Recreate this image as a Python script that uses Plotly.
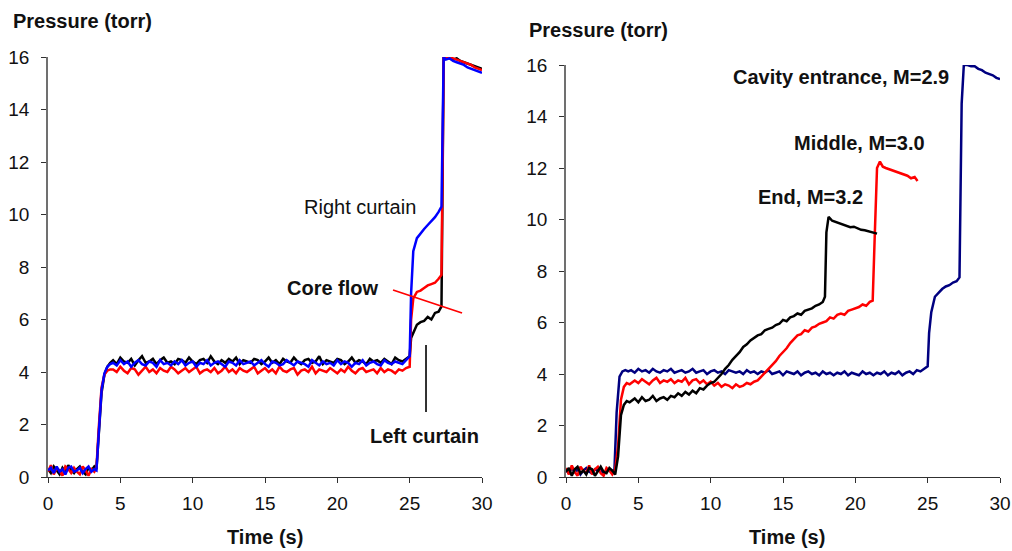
import plotly.graph_objects as go

# ---------------- Left panel data (shared time base) ----------------
t_left = [0, 0.2, 0.4, 0.6, 0.8, 1.0, 1.2, 1.4, 1.6, 1.8, 2.0, 2.2, 2.4, 2.6, 2.8, 3.0, 3.2, 3.35,
          3.5, 3.7, 3.9, 4.1, 4.3,
          4.5, 4.75, 5.0, 5.25, 5.5, 5.75, 6.0, 6.25, 6.5, 6.75,
          7.0, 7.25, 7.5, 7.75, 8.0, 8.25, 8.5, 8.75, 9.0, 9.25,
          9.5, 9.75, 10.0, 10.25, 10.5, 10.75, 11.0, 11.25, 11.5, 11.75,
          12.0, 12.25, 12.5, 12.75, 13.0, 13.25, 13.5, 13.75, 14.0, 14.25,
          14.5, 14.75, 15.0, 15.25, 15.5, 15.75, 16.0, 16.25, 16.5, 16.75,
          17.0, 17.25, 17.5, 17.75, 18.0, 18.25, 18.5, 18.75, 19.0, 19.25,
          19.5, 19.75, 20.0, 20.25, 20.5, 20.75, 21.0, 21.25, 21.5, 21.75,
          22.0, 22.25, 22.5, 22.75, 23.0, 23.25, 23.5, 23.75, 24.0, 24.25,
          24.5, 24.75,
          25.0, 25.1, 25.25, 25.5, 25.75, 26.0, 26.25, 26.5, 26.75, 27.0, 27.2,
          27.35, 27.5, 27.75, 28.0, 28.25, 28.5, 28.75, 29.0, 29.25, 29.5, 29.75, 30.0]

left_curtain = [0.30, 0.15, 0.40, 0.25, 0.10, 0.35, 0.20, 0.45, 0.25, 0.15, 0.30, 0.40, 0.20, 0.10, 0.35, 0.25, 0.40, 0.30,
                1.5, 3.2, 3.9, 4.2, 4.35,
                4.45, 4.30, 4.55, 4.40, 4.35, 4.50, 4.25, 4.45, 4.60, 4.35,
                4.40, 4.50, 4.30, 4.45, 4.55, 4.35, 4.40, 4.30, 4.50, 4.45,
                4.35, 4.55, 4.40, 4.30, 4.45, 4.50, 4.35, 4.60, 4.40, 4.30,
                4.45, 4.35, 4.50, 4.40, 4.55, 4.30, 4.45, 4.40, 4.35, 4.50,
                4.45, 4.30, 4.40, 4.55, 4.35, 4.45, 4.30, 4.50, 4.40, 4.35,
                4.55, 4.40, 4.30, 4.45, 4.50, 4.35, 4.40, 4.60, 4.30, 4.45,
                4.40, 4.35, 4.50, 4.45, 4.30, 4.40, 4.55, 4.35, 4.45, 4.40,
                4.30, 4.50, 4.40, 4.45, 4.35, 4.50, 4.40, 4.30, 4.55, 4.45,
                4.40, 4.50,
                4.6, 5.3, 5.5, 5.8, 5.9, 5.95, 6.1, 6.0, 6.25, 6.3, 6.5,
                16.0, 16.0, 15.95, 15.9, 15.95, 15.85, 15.8, 15.75, 15.7, 15.65, 15.6, 15.55]

core_flow = [0.20, 0.45, 0.10, 0.35, 0.25, 0.05, 0.40, 0.30, 0.15, 0.35, 0.20, 0.10, 0.40, 0.25, 0.05, 0.30, 0.20, 0.35,
             1.8, 3.4, 3.9, 4.05, 4.1,
             4.10, 4.00, 4.20, 4.05, 3.95, 4.15, 4.10, 3.90, 4.05, 4.20,
             4.00, 4.10, 3.95, 4.15, 4.05, 4.00, 4.20, 4.10, 3.95, 4.05,
             4.15, 4.00, 4.10, 4.20, 3.95, 4.05, 4.10, 4.00, 4.15, 3.95,
             4.05, 4.20, 4.00, 4.10, 3.95, 4.15, 4.05, 4.00, 4.10, 4.20,
             3.95, 4.05, 4.15, 4.00, 4.10, 3.95, 4.20, 4.05, 4.00, 4.10,
             4.15, 3.90, 4.05, 4.10, 4.00, 4.20, 3.95, 4.10, 4.05, 4.00,
             4.15, 4.05, 3.95, 4.10, 4.00, 4.20, 4.05, 3.95, 4.10, 4.15,
             4.00, 4.05, 4.10, 3.95, 4.15, 4.00, 4.10, 4.05, 3.95, 4.10,
             4.05, 4.15,
             4.2, 6.0, 6.8, 7.05, 7.1, 7.2, 7.3, 7.35, 7.4, 7.55, 7.7,
             16.0, 16.0, 16.0, 15.95, 15.9, 15.85, 15.8, 15.75, 15.7, 15.6, 15.55, 15.5]

right_curtain = [0.25, 0.35, 0.15, 0.40, 0.20, 0.30, 0.10, 0.35, 0.40, 0.20, 0.25, 0.35, 0.15, 0.30, 0.40, 0.20, 0.30, 0.25,
                 1.6, 3.3, 3.95, 4.2, 4.3,
                 4.35, 4.25, 4.45, 4.30, 4.40, 4.20, 4.35, 4.45, 4.30, 4.25,
                 4.40, 4.35, 4.20, 4.45, 4.30, 4.35, 4.25, 4.40, 4.30, 4.45,
                 4.25, 4.35, 4.40, 4.20, 4.35, 4.30, 4.45, 4.25, 4.35, 4.40,
                 4.30, 4.20, 4.40, 4.35, 4.25, 4.45, 4.30, 4.35, 4.40, 4.25,
                 4.35, 4.45, 4.30, 4.20, 4.40, 4.35, 4.25, 4.30, 4.45, 4.35,
                 4.25, 4.40, 4.35, 4.30, 4.20, 4.45, 4.35, 4.25, 4.40, 4.30,
                 4.35, 4.25, 4.45, 4.30, 4.40, 4.35, 4.20, 4.35, 4.30, 4.45,
                 4.25, 4.35, 4.40, 4.30, 4.25, 4.45, 4.35, 4.30, 4.40, 4.35,
                 4.30, 4.45,
                 4.6, 7.0, 8.6, 9.1, 9.3, 9.45, 9.6, 9.75, 9.9, 10.1, 10.3,
                 16.0, 15.9, 15.95, 15.85, 15.8, 15.75, 15.7, 15.6, 15.55, 15.5, 15.45, 15.4]

# guide lines drawn on the left panel
core_marker_x = [23.85, 28.62]
core_marker_y = [7.12, 6.25]
left_marker_x = [26.13, 26.13]
left_marker_y = [5.03, 2.48]

# ---------------- Right panel data ----------------
t_entrance = t_left
entrance = [0.25, 0.15, 0.35, 0.20, 0.30, 0.10, 0.25, 0.35, 0.20, 0.15, 0.30, 0.25, 0.35, 0.10, 0.25, 0.30, 0.20, 0.30,
            2.5, 3.9, 4.1, 4.15, 4.1,
            4.15, 4.05, 4.20, 4.10, 4.15, 4.05, 4.20, 4.10, 4.05, 4.15,
            4.10, 4.20, 4.05, 4.10, 4.15, 4.05, 4.10, 4.20, 4.05, 4.10,
            4.15, 4.00, 4.10, 4.15, 4.05, 4.10, 4.00, 4.15, 4.10, 4.05,
            4.10, 4.00, 4.15, 4.05, 4.10, 4.00, 4.10, 4.05, 4.15, 4.00,
            4.05, 4.10, 3.95, 4.10, 4.05, 4.00, 4.10, 3.95, 4.05, 4.10,
            4.00, 4.05, 3.95, 4.10, 4.00, 4.05, 3.95, 4.05, 4.00, 4.10,
            3.95, 4.05, 4.00, 3.95, 4.10, 4.00, 4.05, 3.95, 4.05, 4.00,
            4.10, 3.95, 4.05, 4.00, 4.10, 3.95, 4.05, 4.10, 4.00, 4.15,
            4.10, 4.20,
            4.3, 5.6, 6.4, 7.0, 7.15, 7.3, 7.4, 7.45, 7.55, 7.6, 7.75,
            14.5, 16.0, 16.0, 15.95, 15.95, 15.85, 15.8, 15.7, 15.65, 15.6, 15.5, 15.45]

t_middle = [0, 0.2, 0.4, 0.6, 0.8, 1.0, 1.2, 1.4, 1.6, 1.8, 2.0, 2.2, 2.4, 2.6, 2.8, 3.0, 3.2, 3.4,
            3.6, 3.8, 4.0, 4.2, 4.4,
            4.75, 5.0, 5.25, 5.5, 5.75, 6.0, 6.25, 6.5, 6.75, 7.0,
            7.25, 7.5, 7.75, 8.0, 8.25, 8.5, 8.75, 9.0, 9.25, 9.5,
            9.75, 10.0, 10.25, 10.5, 10.75, 11.0, 11.25, 11.5, 11.75, 12.0,
            12.25, 12.5, 12.75, 13.0, 13.25, 13.5, 13.75, 14.0, 14.25, 14.5,
            14.75, 15.0, 15.25, 15.5, 15.75, 16.0, 16.25, 16.5, 16.75, 17.0,
            17.25, 17.5, 17.75, 18.0, 18.25, 18.5, 18.75, 19.0, 19.25, 19.5,
            19.75, 20.0, 20.25, 20.5, 20.75, 21.0,
            21.2, 21.35, 21.5, 21.7,
            21.9, 22.1, 22.35, 22.6, 22.85, 23.1, 23.35, 23.6, 23.85, 24.1, 24.3]
middle = [0.35, 0.10, 0.45, 0.20, 0.05, 0.40, 0.25, 0.15, 0.45, 0.10, 0.30, 0.40, 0.15, 0.05, 0.35, 0.25, 0.10, 0.30,
          1.2, 3.0, 3.5, 3.65, 3.6,
          3.75, 3.65, 3.80, 3.70, 3.60, 3.75, 3.85, 3.65, 3.75, 3.70,
          3.80, 3.65, 3.75, 3.70, 3.85, 3.60, 3.75, 3.80, 3.65, 3.75,
          3.60, 3.70, 3.55, 3.65, 3.50, 3.60, 3.55, 3.45, 3.60, 3.50,
          3.55, 3.65, 3.60, 3.70, 3.75, 3.90, 4.05, 4.20, 4.35, 4.50,
          4.70, 4.85, 5.00, 5.20, 5.35, 5.50, 5.55, 5.70, 5.65, 5.80,
          5.85, 5.95, 6.00, 6.05, 6.20, 6.15, 6.30, 6.35, 6.30, 6.45,
          6.50, 6.55, 6.60, 6.70, 6.65, 6.80,
          6.85, 9.5, 12.0, 12.25,
          12.05, 12.0, 11.95, 11.9, 11.85, 11.8, 11.75, 11.7, 11.6, 11.65, 11.5]

t_end = [0, 0.2, 0.4, 0.6, 0.8, 1.0, 1.2, 1.4, 1.6, 1.8, 2.0, 2.2, 2.4, 2.6, 2.8, 3.0, 3.2, 3.4,
         3.6, 3.8, 4.0, 4.2, 4.4,
         4.75, 5.0, 5.25, 5.5, 5.75, 6.0, 6.25, 6.5, 6.75, 7.0,
         7.25, 7.5, 7.75, 8.0, 8.25, 8.5, 8.75, 9.0, 9.25, 9.5,
         9.75, 10.0, 10.25, 10.5, 10.75, 11.0, 11.25, 11.5, 11.75, 12.0,
         12.25, 12.5, 12.75, 13.0, 13.25, 13.5, 13.75, 14.0, 14.25, 14.5,
         14.75, 15.0, 15.25, 15.5, 15.75, 16.0, 16.25, 16.5, 16.75, 17.0,
         17.25, 17.5, 17.75,
         17.9, 18.0, 18.15,
         18.4, 18.65, 18.9, 19.15, 19.4, 19.65, 19.9, 20.15, 20.4, 20.65, 20.9, 21.15, 21.4, 21.5]
end = [0.20, 0.35, 0.05, 0.30, 0.40, 0.15, 0.25, 0.10, 0.35, 0.30, 0.05, 0.25, 0.40, 0.20, 0.15, 0.35, 0.25, 0.10,
       0.8, 2.4, 2.8, 2.95, 2.9,
       3.05, 2.90, 3.10, 2.95, 3.00, 3.15, 2.95, 3.05, 3.10, 3.00,
       3.15, 3.10, 3.25, 3.15, 3.30, 3.20, 3.35, 3.25, 3.45, 3.40,
       3.55, 3.65, 3.70, 3.85, 4.00, 4.20, 4.35, 4.55, 4.70, 4.85,
       5.05, 5.15, 5.30, 5.40, 5.50, 5.55, 5.70, 5.75, 5.80, 5.90,
       5.95, 6.10, 6.05, 6.20, 6.25, 6.35, 6.30, 6.45, 6.50, 6.55,
       6.65, 6.70, 6.80,
       7.0, 9.5, 10.1,
       9.95, 9.90, 9.85, 9.80, 9.75, 9.70, 9.72, 9.65, 9.60, 9.58, 9.55, 9.50, 9.48, 9.45]

x_ticks = [0, 5, 10, 15, 20, 25, 30]
y_ticks = [0, 2, 4, 6, 8, 10, 12, 14, 16]

FONT = "Liberation Sans, Arial, sans-serif"
LW = 2.5

fig = go.Figure()
# left panel
fig.add_trace(go.Scatter(x=t_left, y=left_curtain, mode="lines", line=dict(color="#000000", width=LW), xaxis="x", yaxis="y"))
fig.add_trace(go.Scatter(x=t_left, y=core_flow, mode="lines", line=dict(color="#FF0000", width=LW), xaxis="x", yaxis="y"))
fig.add_trace(go.Scatter(x=t_left, y=right_curtain, mode="lines", line=dict(color="#0000FF", width=LW), xaxis="x", yaxis="y"))
fig.add_trace(go.Scatter(x=core_marker_x, y=core_marker_y, mode="lines", line=dict(color="#FF0000", width=1.6), xaxis="x", yaxis="y"))
fig.add_trace(go.Scatter(x=left_marker_x, y=left_marker_y, mode="lines", line=dict(color="#000000", width=1.6), xaxis="x", yaxis="y"))
# right panel
fig.add_trace(go.Scatter(x=t_entrance, y=entrance, mode="lines", line=dict(color="#000080", width=LW), xaxis="x2", yaxis="y2"))
fig.add_trace(go.Scatter(x=t_middle, y=middle, mode="lines", line=dict(color="#FF0000", width=LW), xaxis="x2", yaxis="y2"))
fig.add_trace(go.Scatter(x=t_end, y=end, mode="lines", line=dict(color="#000000", width=LW), xaxis="x2", yaxis="y2"))

W, H = 1012, 551
def px_x(p):
    return p / W
def px_y(p):
    return (H - p) / H

xaxis_common = dict(range=[0, 30], tickvals=x_ticks, showline=True, linecolor="#303030", linewidth=1.2,
                    ticks="outside", ticklen=5, tickcolor="#303030", tickwidth=1.2, showgrid=False, zeroline=False,
                    tickfont=dict(family=FONT, size=19, color="#111111"), fixedrange=True, automargin=False,
                    ticklabelstandoff=4)
yaxis_common = dict(range=[0, 16], tickvals=y_ticks, showline=True, linecolor="#707070", linewidth=1.5,
                    ticks="outside", ticklen=5, tickcolor="#303030", tickwidth=1.2, showgrid=False, zeroline=False,
                    tickfont=dict(family=FONT, size=19, color="#111111"), fixedrange=True, automargin=False,
                    ticklabelstandoff=8)

fig.update_layout(
    width=W, height=H,
    margin=dict(l=0, r=0, t=0, b=0, autoexpand=False),
    paper_bgcolor="white", plot_bgcolor="white",
    showlegend=False,
    xaxis=dict(domain=[px_x(48), px_x(482)], anchor="y", **xaxis_common),
    yaxis=dict(domain=[px_y(477), px_y(57)], anchor="x", **yaxis_common),
    xaxis2=dict(domain=[px_x(566), px_x(1000)], anchor="y2", **xaxis_common),
    yaxis2=dict(domain=[px_y(477), px_y(65)], anchor="x2", **yaxis_common),
)

bold = dict(family=FONT, size=20, color="#111111")
ann = []
# axis titles
ann.append(dict(text="<b>Pressure (torr)</b>", xref="paper", yref="paper", x=px_x(11), y=px_y(21), xanchor="left", yanchor="middle", showarrow=False, font=bold))
ann.append(dict(text="<b>Pressure (torr)</b>", xref="paper", yref="paper", x=px_x(527), y=px_y(30), xanchor="left", yanchor="middle", showarrow=False, font=bold))
ann.append(dict(text="<b>Time (s)</b>", xref="paper", yref="paper", x=px_x(265), y=px_y(537), xanchor="center", yanchor="middle", showarrow=False, font=bold))
ann.append(dict(text="<b>Time (s)</b>", xref="paper", yref="paper", x=px_x(787), y=px_y(537), xanchor="center", yanchor="middle", showarrow=False, font=bold))
# left panel labels
ann.append(dict(text="Right curtain", xref="x", yref="y", x=21.57, y=10.29, xanchor="center", yanchor="middle", showarrow=False, font=dict(family=FONT, size=20, color="#111111")))
ann.append(dict(text="<b>Core flow</b>", xref="x", yref="y", x=19.7, y=7.2, xanchor="center", yanchor="middle", showarrow=False, font=bold))
ann.append(dict(text="<b>Left curtain</b>", xref="x", yref="y", x=26.0, y=1.56, xanchor="center", yanchor="middle", showarrow=False, font=bold))
# right panel labels
ann.append(dict(text="<b>Cavity entrance, M=2.9</b>", xref="x2", yref="y2", x=19.0, y=15.53, xanchor="center", yanchor="middle", showarrow=False, font=bold))
ann.append(dict(text="<b>Middle, M=3.0</b>", xref="x2", yref="y2", x=20.32, y=12.97, xanchor="center", yanchor="middle", showarrow=False, font=bold))
ann.append(dict(text="<b>End, M=3.2</b>", xref="x2", yref="y2", x=16.87, y=10.87, xanchor="center", yanchor="middle", showarrow=False, font=bold))
fig.update_layout(annotations=ann)

fig.write_html("out.html")
